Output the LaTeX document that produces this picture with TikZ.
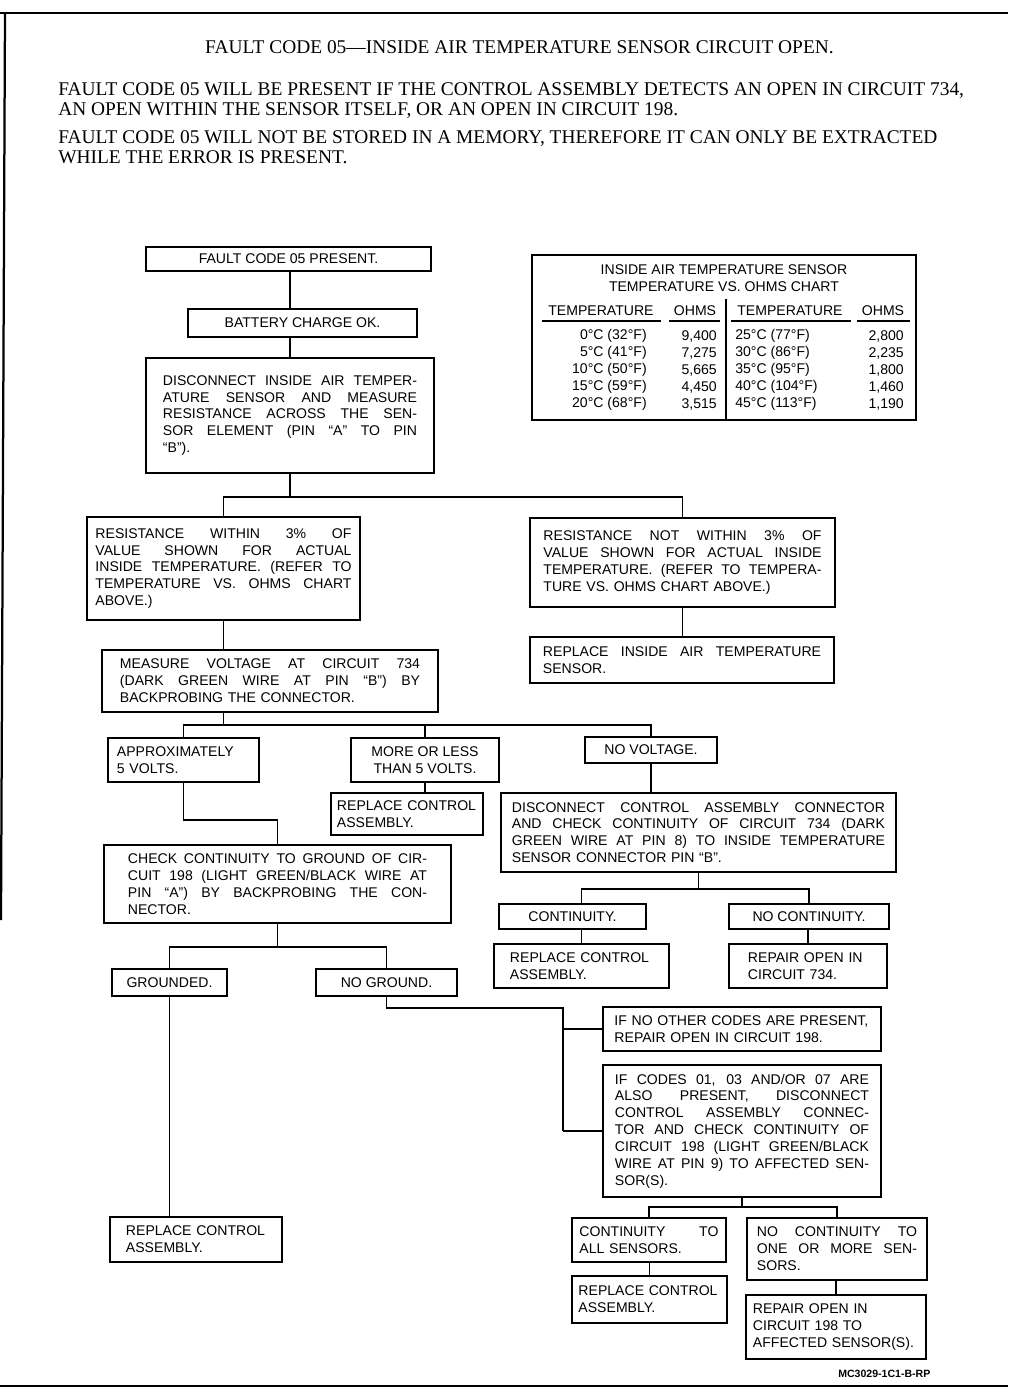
\documentclass[tikz,border=0pt]{standalone}
\usepackage{fontspec}
\usepackage{graphicx}
\newfontfamily\chartfont[Ligatures=TeX]{Liberation Sans}
\newfontfamily\headfont[Ligatures=TeX]{Liberation Serif}
\usetikzlibrary{calc}

% one full (justified) line of a box, \fitw is set by the tw key
\newsavebox\linebox
\newcommand\fitline[1]{\leavevmode\sbox\linebox{#1}%
  \ifdim\wd\linebox>\fitw\resizebox{\fitw}{\height}{\usebox\linebox}%
  \else\hbox to \fitw{\spaceskip=\fontdimen2\font plus 1fil\relax #1}\fi}

\begin{document}
\begin{tikzpicture}[x=0.025cm, y=-0.025cm, line cap=butt, line join=miter,
    box/.style={draw, line width=0.9pt, font=\chartfont\fontsize{10}{12}\selectfont,
      inner xsep=0pt, inner ysep=2pt, align=center},
    tbox/.style={box, align=left},
    tw/.code={\tikzset{text width=#1}\def\fitw{#1}},
    cell/.style={font=\chartfont\fontsize{10}{12}\selectfont, inner sep=0pt},
    head/.style={font=\headfont\fontsize{13.8}{16}\selectfont, inner sep=0pt},
    link/.style={line width=1pt},
    heavy/.style={line width=1.7pt}]
    \useasboundingbox (0,0) rectangle (1008,1392);

    % frame
    \draw[line width=1.4pt] (0,13) -- (1008,13);
    \draw[line width=1.6pt] (5,13) -- (1,920);
    \draw[line width=1.4pt] (0,1386) -- (1008,1386);

    % heading
    \node[head] (title) at (519.5,47) {FAULT CODE 05---INSIDE AIR TEMPERATURE SENSOR CIRCUIT OPEN.};
    \node[head, anchor=base west] (p1) at (58,96) {FAULT CODE 05 WILL BE PRESENT IF THE CONTROL ASSEMBLY DETECTS AN OPEN IN CIRCUIT 734,};
    \node[head, anchor=base west] (p2) at (58,116) {AN OPEN WITHIN THE SENSOR ITSELF, OR AN OPEN IN CIRCUIT 198.};
    \node[head, anchor=base west] (p3) at (58,144) {FAULT CODE 05 WILL NOT BE STORED IN A MEMORY, THEREFORE IT CAN ONLY BE EXTRACTED};
    \node[head, anchor=base west] (p4) at (58,164) {WHILE THE ERROR IS PRESENT.};

    % chart
    \draw[line width=1.4pt] (532,255) rectangle (916,420);
    \node[cell] (ct1) at (724,270) {INSIDE AIR TEMPERATURE SENSOR};
    \node[cell] (ct2) at (724,287) {TEMPERATURE VS. OHMS CHART};
    \node[cell] (hd1) at (601,311) {TEMPERATURE};
    \node[cell] (hd2) at (695,311) {OHMS};
    \node[cell] (hd3) at (790,311) {TEMPERATURE};
    \node[cell] (hd4) at (883,311) {OHMS};
    \draw[line width=0.9pt] (542,321) -- (661,321);
    \draw[line width=0.9pt] (669,321) -- (720,321);
    \draw[line width=0.9pt] (731,321) -- (851,321);
    \draw[line width=0.9pt] (857,321) -- (910,321);
    \draw[line width=1pt] (726,299) -- (726,420);
    \foreach \ta/\oa/\tb/\ob [count=\i from 0] in
      {{0°C (32°F)}/{9,400}/{25°C (77°F)}/{2,800},
       {5°C (41°F)}/{7,275}/{30°C (86°F)}/{2,235},
       {10°C (50°F)}/{5,665}/{35°C (95°F)}/{1,800},
       {15°C (59°F)}/{4,450}/{40°C (104°F)}/{1,460},
       {20°C (68°F)}/{3,515}/{45°C (113°F)}/{1,190}}{
      \node[cell, anchor=east] (ta\i) at (647,336+17*\i) {\ta};
      \node[cell, anchor=east] (oa\i) at (717,336+17*\i) {\oa};
      \node[cell, anchor=west] (tb\i) at (735,336+17*\i) {\tb};
      \node[cell, anchor=east] (ob\i) at (904,336+17*\i) {\ob};
    }

    % boxes
    \node[box, minimum width=7.125cm, minimum height=0.6cm] (b1) at (288.5,259) {FAULT CODE 05 PRESENT.};
    \node[box, minimum width=5.725cm, minimum height=0.7cm] (b2) at (302.5,323) {BATTERY CHARGE OK.};
    \node[tbox, tw=6.35cm, minimum width=7.2cm, minimum height=2.875cm] (b3) at (290,415.5)
      {\fitline{DISCONNECT INSIDE AIR TEMPER-}\\ \fitline{ATURE SENSOR AND MEASURE}\\
       \fitline{RESISTANCE ACROSS THE SEN-}\\ \fitline{SOR ELEMENT (PIN ``A'' TO PIN}\\ ``B'').};
    \node[tbox, tw=6.4cm, minimum width=6.825cm, minimum height=2.575cm] (b4) at (223.5,568.5)
      {\fitline{RESISTANCE WITHIN 3\% OF}\\ \fitline{VALUE SHOWN FOR ACTUAL}\\
       \fitline{INSIDE TEMPERATURE. (REFER TO}\\ \fitline{TEMPERATURE VS. OHMS CHART}\\ ABOVE.)};
    \node[tbox, tw=6.95cm, minimum width=7.625cm, minimum height=2.225cm] (b5) at (682.5,562.5)
      {\fitline{RESISTANCE NOT WITHIN 3\% OF}\\ \fitline{VALUE SHOWN FOR ACTUAL INSIDE}\\
       \fitline{TEMPERATURE. (REFER TO TEMPERA-}\\ TURE VS. OHMS CHART ABOVE.)};
    \node[tbox, tw=6.95cm, minimum width=7.6cm, minimum height=1.15cm] (b6) at (682,660)
      {\fitline{REPLACE INSIDE AIR TEMPERATURE}\\ SENSOR.};
    \node[tbox, tw=7.5cm, minimum width=8.4cm, minimum height=1.55cm] (b7) at (270,681)
      {\fitline{MEASURE VOLTAGE AT CIRCUIT 734}\\ \fitline{(DARK GREEN WIRE AT PIN ``B'') BY}\\
       BACKPROBING THE CONNECTOR.};
    \node[tbox, tw=3.325cm, minimum width=3.775cm, minimum height=1.1cm] (b8) at (183.5,760)
      {APPROXIMATELY\\ 5 VOLTS.};
    \node[box, minimum width=3.7cm, minimum height=1.1cm] (b9) at (425,760) {MORE OR LESS\\ THAN 5 VOLTS.};
    \node[box, minimum width=3.3cm, minimum height=0.65cm] (b10) at (651,750) {NO VOLTAGE.};
    \node[tbox, tw=3.5cm, minimum width=3.8cm, minimum height=1.05cm] (b11) at (407,814)
      {REPLACE CONTROL\\ ASSEMBLY.};
    \node[tbox, tw=9.325cm, minimum width=9.875cm, minimum height=1.975cm] (b12) at (698.5,832.5)
      {\fitline{DISCONNECT CONTROL ASSEMBLY CONNECTOR}\\ \fitline{AND CHECK CONTINUITY OF CIRCUIT 734 (DARK}\\
       \fitline{GREEN WIRE AT PIN 8) TO INSIDE TEMPERATURE}\\ SENSOR CONNECTOR PIN ``B''.};
    \node[tbox, tw=7.475cm, minimum width=8.675cm, minimum height=1.95cm] (b13) at (277.5,884)
      {\fitline{CHECK CONTINUITY TO GROUND OF CIR-}\\ \fitline{CUIT 198 (LIGHT GREEN/BLACK WIRE AT}\\
       \fitline{PIN ``A'') BY BACKPROBING THE CON-}\\ NECTOR.};
    \node[box, minimum width=3.675cm, minimum height=0.625cm] (b14) at (572.5,916.5) {CONTINUITY.};
    \node[box, minimum width=4cm, minimum height=0.625cm] (b15) at (809,916.5) {NO CONTINUITY.};
    \node[tbox, tw=3.575cm, minimum width=4.375cm, minimum height=1.1cm] (b16) at (581.5,966)
      {REPLACE CONTROL\\ ASSEMBLY.};
    \node[tbox, tw=3cm, minimum width=3.95cm, minimum height=1.1cm] (b17) at (808,966)
      {REPAIR OPEN IN\\ CIRCUIT 734.};
    \node[box, minimum width=2.875cm, minimum height=0.675cm] (b18) at (169.5,982.5) {GROUNDED.};
    \node[box, minimum width=3.525cm, minimum height=0.675cm] (b19) at (386.5,982.5) {NO GROUND.};
    \node[tbox, tw=3.5cm, minimum width=4.3cm, minimum height=1.125cm] (b20) at (196,1239.5)
      {REPLACE CONTROL\\ ASSEMBLY.};
    \node[tbox, tw=6.375cm, minimum width=6.95cm, minimum height=1.1cm] (b21) at (742,1029)
      {IF NO OTHER CODES ARE PRESENT,\\ REPAIR OPEN IN CIRCUIT 198.};
    \node[tbox, tw=6.35cm, minimum width=6.95cm, minimum height=3.3cm] (b22) at (742,1131)
      {\fitline{IF CODES 01, 03 AND/OR 07 ARE}\\ \fitline{ALSO PRESENT, DISCONNECT}\\
       \fitline{CONTROL ASSEMBLY CONNEC-}\\ \fitline{TOR AND CHECK CONTINUITY OF}\\
       \fitline{CIRCUIT 198 (LIGHT GREEN/BLACK}\\ \fitline{WIRE AT PIN 9) TO AFFECTED SEN-}\\ SOR(S).};
    \node[tbox, tw=3.475cm, minimum width=3.85cm, minimum height=1.1cm] (b23) at (649,1240)
      {\fitline{CONTINUITY TO}\\ ALL SENSORS.};
    \node[tbox, tw=4cm, minimum width=4.5cm, minimum height=1.55cm] (b24) at (837,1249)
      {\fitline{NO CONTINUITY TO}\\ \fitline{ONE OR MORE SEN-}\\ SORS.};
    \node[tbox, tw=3.55cm, minimum width=3.875cm, minimum height=1.175cm] (b25) at (649.5,1299.5)
      {REPLACE CONTROL\\ ASSEMBLY.};
    \node[tbox, tw=4.15cm, minimum width=4.5cm, minimum height=1.6cm] (b26) at (836,1327)
      {REPAIR OPEN IN\\ CIRCUIT 198 TO\\ AFFECTED SENSOR(S).};

    \node[font=\chartfont\bfseries\fontsize{7.5}{9}\selectfont, anchor=west, inner sep=0pt] (code) at (838,1374) {MC3029-1C1-B-RP};

    % junctions
    \coordinate (j1) at (293,497);
    \coordinate (j2) at (225,725);
    \coordinate (j3) at (186,820);
    \coordinate (j4) at (697,889);
    \coordinate (j5) at (276,947);
    \coordinate (j6) at (563,1008);
    \coordinate (j7) at (747,1207);

    % connectors
    \draw[link] (b3.north |- b1.south) -- (b3.north |- b2.north);
    \draw[link] (b3.north |- b2.south) -- (b3.north);
    \draw[link] (b3.south) -- (b3.south |- j1);
    \draw[link] (b4.north) |- (b5.north |- j1) -- (b5.north);
    \draw[link] (b5.south) -- (b5.south |- b6.north);
    \draw[link] (b4.south) -- (b4.south |- b7.north);
    \draw[link] (b4.south |- b7.south) -- (b4.south |- j2);
    \draw[link] (b8.north) |- (b10.north |- j2) -- (b10.north);
    \draw[link] (b9.north) -- (b9.north |- j2);
    \draw[link] (b9.south) -- (b9.south |- b11.north);
    \draw[link] (b10.south) -- (b10.south |- b12.north);
    \draw[link] (b8.south) |- (b13.north |- j3) -- (b13.north);
    \draw[link] (b12.south) -- (b12.south |- j4);
    \draw[link] (b16.north |- b14.north) |- (b15.north |- j4) -- (b15.north);
    \draw[link] (b16.north |- b14.south) -- (b16.north);
    \draw[link] (b17.north |- b15.south) -- (b17.north);
    \draw[link] (b13.south) -- (b13.south |- j5);
    \draw[link] (b18.north) |- (b19.north |- j5) -- (b19.north);
    \draw[link] (b18.south) -- (b18.south |- b20.north);
    \draw[link] (b19.south) |- (j6) -- (j6 |- b22.west);
    \draw[heavy] (j6 |- b21.west) -- (b21.west);
    \draw[heavy] (j6 |- b22.west) -- (b22.west);
    \draw[link] (b22.south) -- (b22.south |- j7);
    \draw[link] (b23.north) |- (b24.north |- j7) -- (b24.north);
    \draw[link] (b25.north |- b23.south) -- (b25.north);
    \draw[link] (b26.north |- b24.south) -- (b26.north);
\end{tikzpicture}
\end{document}
